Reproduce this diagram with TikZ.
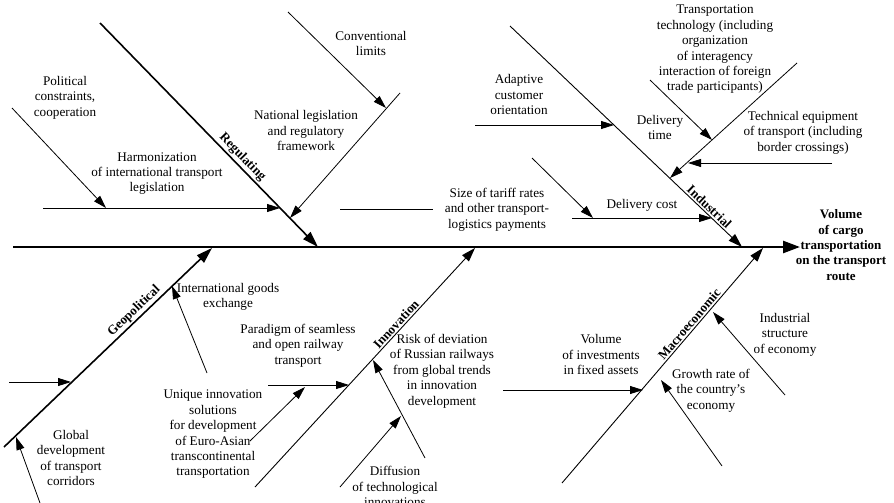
\documentclass[tikz,border=0pt]{standalone}
\usepackage{fontspec}
\setmainfont{Liberation Serif}
\usetikzlibrary{arrows.meta}

\begin{document}
\begin{tikzpicture}[x=1pt,y=-1pt,
  txt/.style={align=center, inner sep=0pt, font=\fontsize{13.2}{15.4}\selectfont},
  result/.style={txt, font=\fontsize{13}{15.4}\selectfont\bfseries},
  spine/.style={line width=2.6pt, -{Triangle[length=17pt,width=12pt]}},
  thickbone/.style={line width=1.6pt, -{Triangle[length=16pt,width=10pt]}},
  thinbone/.style={line width=0.9pt, -{Triangle[length=14pt,width=9pt]}},
  sub/.style={line width=0.8pt, -{Triangle[length=13pt,width=8pt]}},
  leader/.style={line width=0.8pt},
  bonelabel/.style={sloped, above, inner sep=1.5pt, font=\fontsize{13}{15}\selectfont\bfseries}
]
\useasboundingbox (0,0) rectangle (894,503);

% ---------- main spine and effect ----------
\coordinate (s0) at (13,247);
\coordinate (head) at (800,247);
\draw[spine] (s0) -- (head);
\node[result] (effect) at (841,245) {Volume\\of cargo\\transportation\\on the transport\\route};

% ---------- Regulating ----------
\coordinate (regA) at (100,23);
\coordinate (regB) at (318,247);
\draw[thickbone] (regA) -- node[bonelabel, pos=0.626] {Regulating} (regB);

\coordinate (harA) at (43,208);   \coordinate (harB) at (280,208);
\coordinate (polA) at (12,108);   \coordinate (polB) at (106,208);
\coordinate (natA) at (400,93);   \coordinate (natB) at (290,218);
\coordinate (conA) at (288,12);   \coordinate (conB) at (386,108);
\draw[sub] (harA) -- (harB);
\draw[sub] (polA) -- (polB);
\draw[sub] (natA) -- (natB);
\draw[sub] (conA) -- (conB);

\node[txt] (pol) at (65,97.5) {Political\\constraints,\\cooperation};
\node[txt] (har) at (157,173.5) {Harmonization\\of international transport\\legislation};
\node[txt] (con) at (371,43.5) {Conventional\\limits};
\node[txt] (nat) at (306,130.5) {National legislation\\and regulatory\\framework};

% ---------- Industrial ----------
\coordinate (indA) at (510,26);
\coordinate (indB) at (742,247);
\draw[thinbone] (indA) -- node[bonelabel, pos=0.84] {Industrial} (indB);

\coordinate (adaA) at (475,125);  \coordinate (adaB) at (614,125);
\coordinate (dtA) at (797,63);    \coordinate (dtB) at (670,178);
\coordinate (ttA) at (650,80);    \coordinate (ttB) at (712,140);
\coordinate (teA) at (832,163);   \coordinate (teB) at (688,163);
\coordinate (dcA) at (572,218);   \coordinate (dcB) at (712,218);
\coordinate (stA) at (532,158);   \coordinate (stB) at (593,218);
\coordinate (lgA) at (340,209);   \coordinate (lgB) at (433,209);
\draw[sub] (adaA) -- (adaB);
\draw[sub] (dtA) -- (dtB);
\draw[sub] (ttA) -- (ttB);
\draw[sub] (teA) -- (teB);
\draw[sub] (dcA) -- (dcB);
\draw[sub] (stA) -- (stB);
\draw[leader] (lgA) -- (lgB);

\node[txt] (ada) at (519,94.5) {Adaptive\\customer\\orientation};
\node[txt] (dt) at (660,127.5) {Delivery\\time};
\node[txt] (tt) at (715,49.5) {Transportation\\technology (including\\organization\\of interagency\\interaction of foreign\\trade participants)};
\node[txt] (te) at (803,132.5) {Technical equipment\\of transport (including\\border crossings)};
\node[txt] (dc) at (642,205) {Delivery cost};
\node[txt] (st) at (497,209.5) {Size of tariff rates\\and other transport-\\logistics payments};

% ---------- Geopolitical ----------
\coordinate (geoA) at (4,447);
\coordinate (geoB) at (212,248);
\draw[thickbone] (geoA) -- node[bonelabel, pos=0.653] {Geopolitical} (geoB);

\coordinate (gxA) at (9,382);     \coordinate (gxB) at (71,382);
\coordinate (gcA) at (40,503);    \coordinate (gcB) at (16,437);
\coordinate (igA) at (207,373);   \coordinate (igB) at (172,286);
\draw[sub] (gxA) -- (gxB);
\draw[sub] (gcA) -- (gcB);
\draw[sub] (igA) -- (igB);

\node[txt] (gc) at (71,458) {Global\\development\\of transport\\corridors};
\node[txt] (ig) at (228,297) {International goods\\exchange};

% ---------- Innovation ----------
\coordinate (innA) at (255,487);
\coordinate (innB) at (475,248);
\draw[thinbone] (innA) -- node[bonelabel, pos=0.663] {Innovation} (innB);

\coordinate (parA) at (268,385);  \coordinate (parB) at (349,385);
\coordinate (uniA) at (250,441);  \coordinate (uniB) at (305,387);
\coordinate (riskA) at (425,458); \coordinate (riskB) at (373,360);
\coordinate (difA) at (340,487);  \coordinate (difB) at (401,416);
\draw[sub] (parA) -- (parB);
\draw[sub] (uniA) -- (uniB);
\draw[sub] (riskA) -- (riskB);
\draw[sub] (difA) -- (difB);

\node[txt] (par) at (298,345.5) {Paradigm of seamless\\and open railway\\transport};
\node[txt] (uni) at (213,434.5) {Unique innovation\\solutions\\for development\\of Euro-Asian\\transcontinental\\transportation};
\node[txt] (risk) at (442,371) {Risk of deviation\\of Russian railways\\from global trends\\in innovation\\development};
\node[txt] (dif) at (395,486.5) {Diffusion\\of technological\\innovations};

% ---------- Macroeconomic ----------
\coordinate (macA) at (562,483);
\coordinate (macB) at (763,248);
\draw[thinbone] (macA) -- node[bonelabel, pos=0.658] {Macroeconomic} (macB);

\coordinate (invA) at (503,390);  \coordinate (invB) at (643,390);
\coordinate (grA) at (722,466);   \coordinate (grB) at (661,380);
\coordinate (isA) at (785,395);   \coordinate (isB) at (713,312);
\draw[sub] (invA) -- (invB);
\draw[sub] (grA) -- (grB);
\draw[sub] (isA) -- (isB);

\node[txt] (inv) at (601,354.5) {Volume\\of investments\\in fixed assets};
\node[txt] (gr) at (711,390.5) {Growth rate of\\the country’s\\economy};
\node[txt] (is) at (785,334.5) {Industrial\\structure\\of economy};
\end{tikzpicture}
\end{document}
